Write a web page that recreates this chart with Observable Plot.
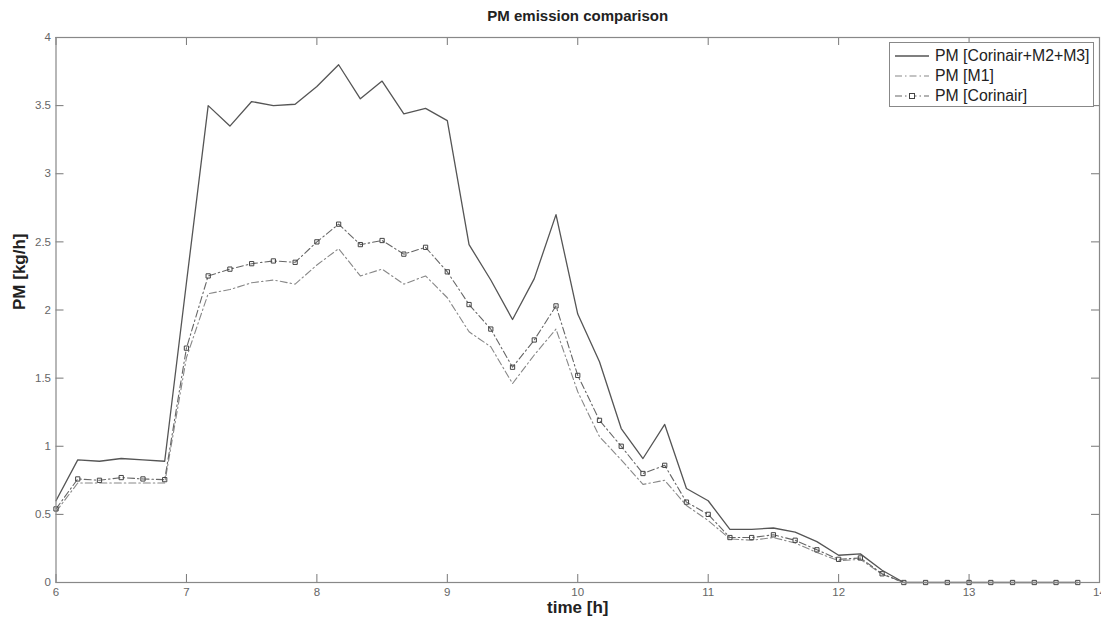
<!DOCTYPE html>
<html>
<head>
<meta charset="utf-8">
<script src="https://cdn.jsdelivr.net/npm/d3@7"></script>
<script src="https://cdn.jsdelivr.net/npm/@observablehq/plot@0.6"></script>
<style>
  html, body { margin: 0; padding: 0; background: #fff; }
  #wrap { position: relative; width: 1101px; height: 621px; font-family: "Liberation Sans", Arial, sans-serif; }
  #legend { position: absolute; left: 889px; top: 42px; width: 205px; height: 65px; border: 1px solid #888; background: #fff; box-sizing: border-box; padding-top: 3px; }
  #legend .item { display: flex; align-items: center; height: 20px; font-size: 15.8px; color: #222; }
  #legend svg { margin-left: 4px; margin-right: 5px; }
</style>
</head>
<body>
<div id="wrap"><div id="chart"></div><div id="legend"></div></div>
<script>
const title = "PM emission comparison";
const xLabel = "time [h]";
const yLabel = "PM [kg/h]";
const seriesNames = ["PM [Corinair+M2+M3]", "PM [M1]", "PM [Corinair]"];
const xTicks = [6, 7, 8, 9, 10, 11, 12, 13, 14];
const yTicks = [0, 0.5, 1, 1.5, 2, 2.5, 3, 3.5, 4];

const times = [
  6, 6.1667, 6.3333, 6.5, 6.6667, 6.8333,
  7, 7.1667, 7.3333, 7.5, 7.6667, 7.8333,
  8, 8.1667, 8.3333, 8.5, 8.6667, 8.8333,
  9, 9.1667, 9.3333, 9.5, 9.6667, 9.8333,
  10, 10.1667, 10.3333, 10.5, 10.6667, 10.8333,
  11, 11.1667, 11.3333, 11.5, 11.6667, 11.8333,
  12, 12.1667, 12.3333, 12.5, 12.6667, 12.8333,
  13, 13.1667, 13.3333, 13.5, 13.6667, 13.8333
];
const pmTotal = [
  0.60, 0.90, 0.89, 0.91, 0.90, 0.89,
  2.20, 3.50, 3.35, 3.53, 3.50, 3.51,
  3.64, 3.80, 3.55, 3.68, 3.44, 3.48,
  3.39, 2.48, 2.22, 1.93, 2.23, 2.70,
  1.97, 1.62, 1.13, 0.91, 1.16, 0.69,
  0.60, 0.39, 0.39, 0.40, 0.37, 0.30,
  0.20, 0.21, 0.09, 0, 0, 0,
  0, 0, 0, 0, 0, 0
];
const pmM1 = [
  0.52, 0.73, 0.73, 0.73, 0.73, 0.73,
  1.65, 2.12, 2.15, 2.20, 2.22, 2.19,
  2.33, 2.45, 2.25, 2.30, 2.19, 2.25,
  2.09, 1.84, 1.73, 1.46, 1.67, 1.86,
  1.40, 1.07, 0.90, 0.72, 0.75, 0.565,
  0.455, 0.32, 0.31, 0.33, 0.29, 0.22,
  0.16, 0.17, 0.06, 0, 0, 0,
  0, 0, 0, 0, 0, 0
];
const pmCorinair = [
  0.54, 0.76, 0.75, 0.77, 0.76, 0.755,
  1.72, 2.25, 2.30, 2.34, 2.36, 2.35,
  2.50, 2.63, 2.48, 2.51, 2.41, 2.46,
  2.28, 2.04, 1.86, 1.58, 1.78, 2.03,
  1.52, 1.19, 1.00, 0.80, 0.86, 0.59,
  0.50, 0.33, 0.33, 0.35, 0.31, 0.24,
  0.17, 0.18, 0.064, 0, 0, 0,
  0, 0, 0, 0, 0, 0
];

const W = 1101, H = 621;
const mL = 55.5, mR = 2, mT = 37, mB = 39;
const pw = W - mL - mR, ph = H - mT - mB;
const tickLen = 8;

const rows = (vals) => times.map((t, i) => ({t, v: vals[i]}));
const total = rows(pmTotal), m1 = rows(pmM1), cor = rows(pmCorinair);

const styles = [
  {stroke: "#555", strokeWidth: 1.3, dash: null},
  {stroke: "#888", strokeWidth: 1.1, dash: "7,3,1.5,3"},
  {stroke: "#666", strokeWidth: 1.1, dash: "7,3,1.5,3"}
];

const chart = Plot.plot({
  width: W, height: H,
  marginLeft: mL, marginRight: mR, marginTop: mT, marginBottom: mB,
  style: {fontFamily: "'Liberation Sans', Arial, sans-serif", background: "#fff", color: "#666"},
  x: {domain: [6, 14], ticks: xTicks},
  y: {domain: [0, 4], ticks: yTicks},
  marks: [
    Plot.axisX(xTicks, {tickSize: 0, tickPadding: 5, fontSize: 11.5, fill: "#666", label: null, tickFormat: d => String(d)}),
    Plot.axisY(yTicks, {tickSize: 0, tickPadding: 5, fontSize: 11.5, fill: "#666", label: null, tickFormat: d => String(d)}),
    Plot.tickX(xTicks, {x: d => d, stroke: "#777", insetTop: ph - tickLen}),
    Plot.tickX(xTicks, {x: d => d, stroke: "#777", insetBottom: ph - tickLen}),
    Plot.tickY(yTicks, {y: d => d, stroke: "#777", insetRight: pw - tickLen}),
    Plot.tickY(yTicks, {y: d => d, stroke: "#777", insetLeft: pw - tickLen}),
    Plot.line(m1, {x: "t", y: "v", stroke: styles[1].stroke, strokeWidth: styles[1].strokeWidth, strokeDasharray: styles[1].dash}),
    Plot.line(cor, {x: "t", y: "v", stroke: styles[2].stroke, strokeWidth: styles[2].strokeWidth, strokeDasharray: styles[2].dash}),
    Plot.dot(cor, {x: "t", y: "v", symbol: "square", r: 2.4, stroke: "#444", strokeWidth: 1, fill: "none"}),
    Plot.line(total, {x: "t", y: "v", stroke: styles[0].stroke, strokeWidth: styles[0].strokeWidth}),
    Plot.frame({stroke: "#888", strokeWidth: 1.2}),
    Plot.text([title], {frameAnchor: "top", dy: -27, fontSize: 15, fontWeight: "bold", fill: "#222"}),
    Plot.text([xLabel], {frameAnchor: "bottom", dy: 30, fontSize: 17, fontWeight: "bold", fill: "#222"}),
    Plot.text([yLabel], {frameAnchor: "left", dx: -36, rotate: -90, fontSize: 17, fontWeight: "bold", fill: "#222"})
  ]
});
document.getElementById("chart").appendChild(chart);

// legend
const legend = document.getElementById("legend");
seriesNames.forEach((name, i) => {
  const st = styles[i];
  const item = document.createElement("div");
  item.className = "item";
  const ns = "http://www.w3.org/2000/svg";
  const svg = document.createElementNS(ns, "svg");
  svg.setAttribute("width", 36); svg.setAttribute("height", 12);
  const ln = document.createElementNS(ns, "line");
  ln.setAttribute("x1", 1); ln.setAttribute("x2", 35); ln.setAttribute("y1", 6); ln.setAttribute("y2", 6);
  ln.setAttribute("stroke", st.stroke); ln.setAttribute("stroke-width", st.strokeWidth);
  if (st.dash) ln.setAttribute("stroke-dasharray", st.dash);
  svg.appendChild(ln);
  if (i === 2) {
    const r = document.createElementNS(ns, "rect");
    r.setAttribute("x", 15.5); r.setAttribute("y", 3.5); r.setAttribute("width", 5); r.setAttribute("height", 5);
    r.setAttribute("fill", "#fff"); r.setAttribute("stroke", "#444");
    svg.appendChild(r);
  }
  item.appendChild(svg);
  const span = document.createElement("span");
  span.textContent = name;
  item.appendChild(span);
  legend.appendChild(item);
});
</script>
</body>
</html>
